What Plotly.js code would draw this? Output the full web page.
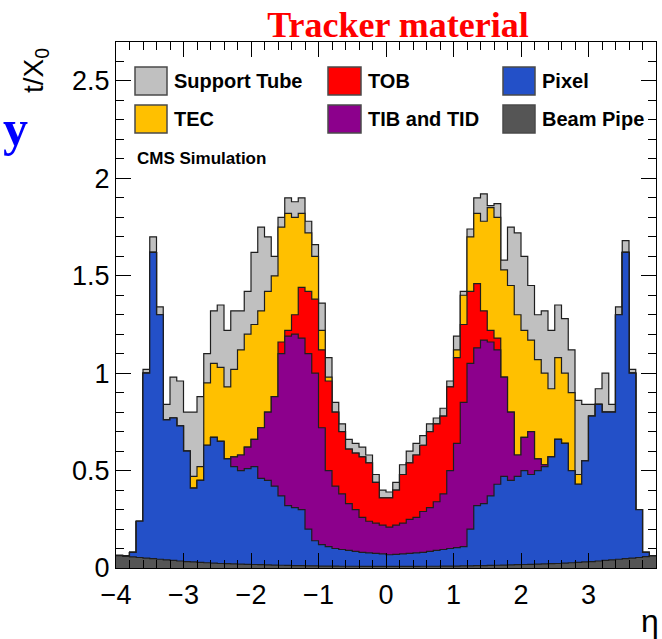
<!DOCTYPE html>
<html>
<head>
<meta charset="utf-8">
<script src="https://cdn.plot.ly/plotly-3.0.1.min.js"></script>
<style>
html,body{margin:0;padding:0;background:#ffffff;}
#chart{width:662px;height:639px;}
</style>
</head>
<body>
<div id="chart"></div>
<script>
// Bin lower edges in eta (bin width 0.1), last upper edge = 4.0
const binLowEdges = [-4.0,-3.9,-3.8,-3.7,-3.6,-3.5,-3.4,-3.3,-3.2,-3.1,-3.0,-2.9,-2.8,-2.7,-2.6,-2.5,-2.4,-2.3,-2.2,-2.1,
  -2.0,-1.9,-1.8,-1.7,-1.6,-1.5,-1.4,-1.3,-1.2,-1.1,-1.0,-0.9,-0.8,-0.7,-0.6,-0.5,-0.4,-0.3,-0.2,-0.1,
  0.0,0.1,0.2,0.3,0.4,0.5,0.6,0.7,0.8,0.9,1.0,1.1,1.2,1.3,1.4,1.5,1.6,1.7,1.8,1.9,
  2.0,2.1,2.2,2.3,2.4,2.5,2.6,2.7,2.8,2.9,3.0,3.1,3.2,3.3,3.4,3.5,3.6,3.7,3.8,3.9];
const lastUpperEdge = 4.0;

// Contributions t/X0 per bin (stack order bottom -> top)
const beamPipe = [.063,.060,.057,.054,.051,.048,.045,.042,.039,.036,.033,.031,.029,.027,.025,.023,.022,.021,.020,.019,
  .018,.017,.016,.015,.014,.013,.012,.012,.011,.011,.010,.010,.010,.009,.009,.009,.008,.008,.008,.008,
  .008,.008,.008,.008,.008,.009,.009,.009,.010,.010,.010,.011,.011,.012,.012,.013,.014,.015,.016,.017,
  .018,.019,.020,.021,.022,.023,.025,.027,.029,.031,.033,.036,.039,.042,.045,.048,.051,.054,.058,.062];

const pixel = [.001,.001,.023,.186,.949,1.572,1.255,.718,.731,.694,.567,.379,.421,.603,.645,.627,.538,.499,.480,.491,
  .502,.443,.434,.405,.356,.307,.298,.288,.189,.129,.110,.100,.090,.086,.081,.076,.072,.070,.067,.064,
  .060,.062,.064,.067,.070,.071,.076,.081,.085,.090,.095,.099,.189,.308,.318,.357,.416,.455,.434,.453,
  .482,.461,.480,.499,.548,.637,.615,.473,.401,.519,.747,.804,.761,.758,1.255,1.572,.949,.246,.022,.001];

const tibTid = [0,0,0,0,0,0,0,0,0,0,0,0,0,0,0,0,0,.05,.08,.11,
  .14,.26,.35,.46,.73,.87,.89,.88,.90,.86,.60,.39,.32,.285,.24,.215,.18,.162,.155,.148,
  .142,.15,.158,.175,.182,.21,.225,.25,.285,.40,.535,.74,.85,.81,.84,.79,.69,.51,.35,.11,
  .17,.22,.06,.01,0,0,0,0,0,0,0,0,0,0,0,0,0,0,0,0];

const tob = [0,0,0,0,0,0,0,0,0,0,0,0,0,0,0,0,0,0,0,0,
  0,0,0,0,.06,.03,.10,.26,.32,.38,.40,.46,.38,.32,.28,.29,.31,.30,.21,.14,
  .15,.18,.25,.29,.32,.34,.39,.40,.40,.43,.44,.40,.37,.33,.15,.06,.06,0,0,0,
  0,0,0,0,0,0,0,0,0,0,0,0,0,0,0,0,0,0,0,0];

const tec = [0,0,0,0,0,0,0,0,0,0,0,.06,.07,.32,.38,.38,.37,.45,.54,.58,
  .59,.60,.62,.62,.59,.60,.50,.38,.30,.22,.10,.02,0,0,0,0,0,0,0,0,
  0,0,0,0,0,0,0,0,0,0,.04,.15,.28,.36,.46,.63,.62,.55,.65,.72,
  .55,.47,.51,.47,.35,.42,.36,.40,.05,0,0,0,0,0,0,0,0,0,0,0];

const supportTube = [.002,.002,0,0,.02,.08,.04,.08,.21,.23,.20,.33,.36,.15,.27,.32,.29,.30,.20,.22,
  .37,.43,.28,.10,.05,.08,.08,.08,.06,.06,.14,.10,.05,.04,.05,.05,.05,.04,.04,.04,
  .03,.04,.05,.06,.06,.05,.04,.03,.04,.03,.07,.02,.04,.08,.14,.01,.07,.05,.30,.42,
  .38,.28,.23,.32,.30,.27,.28,.22,.38,.29,.06,.08,.20,.04,.04,.06,.02,0,0,.001];

const seriesNames = ['Beam Pipe','Pixel','TIB and TID','TOB','TEC','Support Tube'];
const seriesData = [beamPipe, pixel, tibTid, tob, tec, supportTube];
const seriesColors = ['#555555','#2350c8','#8c008c','#ff0000','#ffc000','#c0c0c0'];

// Cumulative stack (ROOT THStack style: draw the tallest first, each covering the previous)
const xs = binLowEdges.concat([lastUpperEdge]);
const cum = [];
let run = binLowEdges.map(() => 0);
for (let s = 0; s < seriesData.length; s++) {
  run = run.map((v, i) => v + seriesData[s][i]);
  cum.push(run.slice());
}
const traces = [];
for (let s = seriesData.length - 1; s >= 0; s--) {
  const ys = cum[s].concat([cum[s][cum[s].length - 1]]);
  traces.push({
    type: 'scatter', mode: 'lines', name: seriesNames[s],
    x: xs, y: ys,
    line: {shape: 'hv', color: '#1e1e1e', width: 1.2},
    fill: 'tozeroy', fillcolor: seriesColors[s],
    showlegend: false, hoverinfo: 'skip'
  });
}

// pixel -> paper helpers for decorations
const PL = 116, PR = 656, PT = 42, PB = 568;
const px2x = p => (p - PL) / (PR - PL);
const px2y = p => (PB - p) / (PB - PT);

// Legend (3 columns x 2 rows) as in the ROOT plot
const legendOrder = ['Support Tube','TOB','Pixel','TEC','TIB and TID','Beam Pipe'];
const colBox = [[135,167],[328,361],[503,535]];
const rowBox = [[67,95],[105,133]];
const shapes = [];
const annotations = [];
legendOrder.forEach((name, k) => {
  const c = k % 3, r = Math.floor(k / 3);
  const col = seriesColors[seriesNames.indexOf(name)];
  shapes.push({type:'rect', xref:'paper', yref:'paper',
    x0: px2x(colBox[c][0]), x1: px2x(colBox[c][1]),
    y0: px2y(rowBox[r][1]), y1: px2y(rowBox[r][0]),
    fillcolor: col, line:{color:'#4a4a4a', width:1.5}});
  annotations.push({xref:'paper', yref:'paper', x: px2x(colBox[c][1] + 5), y: px2y((rowBox[r][0] + rowBox[r][1]) / 2),
    xanchor:'left', yanchor:'middle', showarrow:false, text: name,
    font:{family:'Liberation Sans, Arial, sans-serif', size:20, color:'#000', weight:'bold'}});
});
annotations.push({xref:'paper', yref:'paper', x: px2x(135), y: px2y(158), xanchor:'left', yanchor:'middle',
  showarrow:false, text:'CMS Simulation', font:{family:'Liberation Sans, Arial, sans-serif', size:17, color:'#000', weight:'bold'}});
annotations.push({xref:'paper', yref:'paper', x: px2x(36), y: px2y(71), xanchor:'center', yanchor:'middle',
  showarrow:false, textangle:-90, text:'t/X<sub>0</sub>', font:{family:'Liberation Sans, Arial, sans-serif', size:28, color:'#000'}});
annotations.push({xref:'paper', yref:'paper', x: px2x(650), y: px2y(621), xanchor:'center', yanchor:'middle',
  showarrow:false, text:'η', font:{family:'Liberation Sans, Arial, sans-serif', size:32, color:'#000'}});
annotations.push({xref:'paper', yref:'paper', x: px2x(1), y: px2y(128), xanchor:'left', yanchor:'middle',
  showarrow:false, text:'y', font:{family:'Liberation Serif, Times New Roman, serif', size:50, color:'#0000ff', weight:'bold'}});

const tickFont = {family:'Liberation Sans, Arial, sans-serif', size:27, color:'#000'};
const layout = {
  width: 662, height: 639,
  margin: {l: PL, r: 662 - PR, t: PT, b: 639 - PB, pad: 0},
  paper_bgcolor: '#ffffff', plot_bgcolor: '#ffffff',
  showlegend: false,
  title: {text: 'Tracker material', xref:'container', yref:'container', x: 398/662, xanchor:'center',
    y: 1 - 24/639, yanchor:'middle',
    font: {family:'Liberation Serif, Times New Roman, serif', size:36, color:'#ff0000', weight:'bold'}},
  xaxis: {range: [-4, 4], tick0: 0, dtick: 1, ticks:'inside', ticklen:15, tickwidth:1, tickcolor:'#000',
    showline:true, linecolor:'#000', linewidth:1, mirror:'ticks', showgrid:false, zeroline:false,
    tickfont: tickFont, ticklabelstandoff: 3,
    minor: {dtick:0.2, ticks:'inside', ticklen:8, tickwidth:1, tickcolor:'#000', showgrid:false}},
  yaxis: {range: [0, 2.7], tick0: 0, dtick: 0.5, ticks:'inside', ticklen:15, tickwidth:1, tickcolor:'#000',
    showline:true, linecolor:'#000', linewidth:1, mirror:'ticks', showgrid:false, zeroline:false,
    tickfont: tickFont,
    minor: {dtick:0.1, ticks:'inside', ticklen:8, tickwidth:1, tickcolor:'#000', showgrid:false}},
  shapes: shapes,
  annotations: annotations
};
Plotly.newPlot('chart', traces, layout, {displayModeBar:false, staticPlot:true});
</script>
</body>
</html>
